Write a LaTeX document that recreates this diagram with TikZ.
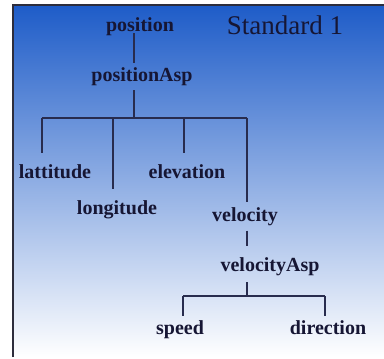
\documentclass[tikz,border=0pt]{standalone}
\usepackage{fontspec}
\setmainfont{Liberation Serif}[BoldFont={Liberation Serif Bold}]
\newfontfamily\lblfont{Liberation Serif Bold}
\definecolor{bgtop}{RGB}{30,92,200}
\definecolor{bgmid}{RGB}{168,184,228}
\definecolor{txt}{RGB}{22,22,52}
\definecolor{ln}{RGB}{40,44,78}
\definecolor{frame}{RGB}{45,45,60}
\tikzset{
  lbl/.style={anchor=base, inner sep=0pt, text=txt, font=\lblfont\fontsize{20}{24}\selectfont},
  ttl/.style={anchor=base, inner sep=0pt, text=txt, font=\fontsize{27}{32}\selectfont},
  conn/.style={draw=ln, line width=1.3pt}
}
\begin{document}
\begin{tikzpicture}[x=1pt,y=-1pt]
\useasboundingbox (0,0) rectangle (384,359);
\shade[top color=bgtop, middle color=bgmid, bottom color=white] (13,5) rectangle (384,357);
\draw[frame, line width=1.5pt] (13,357) -- (13,5) -- (384,5);

\node[ttl] (title) at (285,34) {Standard 1};
\node[lbl] (position) at (140,31) {position};
\node[lbl] (positionAsp) at (142,81) {positionAsp};
\node[lbl] (lat) at (55,178) {lattitude};
\node[lbl] (elev) at (187,178) {elevation};
\node[lbl] (long) at (117,214) {longitude};
\node[lbl] (vel) at (245,221) {velocity};
\node[lbl] (velAsp) at (270,271) {velocityAsp};
\node[lbl] (speed) at (180,334) {speed};
\node[lbl] (dir) at (328,334) {direction};

\coordinate (a0) at (134,118);
\coordinate (b1) at (42,118);
\coordinate (b2) at (113,118);
\coordinate (b3) at (184,118);
\coordinate (b4) at (247,118);
\coordinate (c0) at (247,296);
\coordinate (c1) at (183,296);
\coordinate (c2) at (325,296);

\draw[conn, shorten <=-2pt, shorten >=4pt] (position.south -| a0) -- (positionAsp.north -| a0);
\draw[conn, shorten <=5pt] (positionAsp.south -| a0) -- (a0);
\draw[conn] (b1) -- (b4);
\draw[conn, shorten >=10.5pt] (b1) -- (b1 |- lat.north);
\draw[conn, shorten >=10.5pt] (b2) -- (b2 |- long.north);
\draw[conn, shorten >=10.5pt] (b3) -- (b3 |- elev.north);
\draw[conn, shorten >=4.5pt] (b4) -- (b4 |- vel.north);
\draw[conn, shorten <=5pt, shorten >=10.5pt] (vel.south -| c0) -- (velAsp.north -| c0);
\draw[conn, shorten <=6.5pt] (velAsp.south -| c0) -- (c0);
\draw[conn] (c1) -- (c2);
\draw[conn, shorten >=3.5pt] (c1) -- (c1 |- speed.north);
\draw[conn, shorten >=3.5pt] (c2) -- (c2 |- dir.north);
\end{tikzpicture}
\end{document}
